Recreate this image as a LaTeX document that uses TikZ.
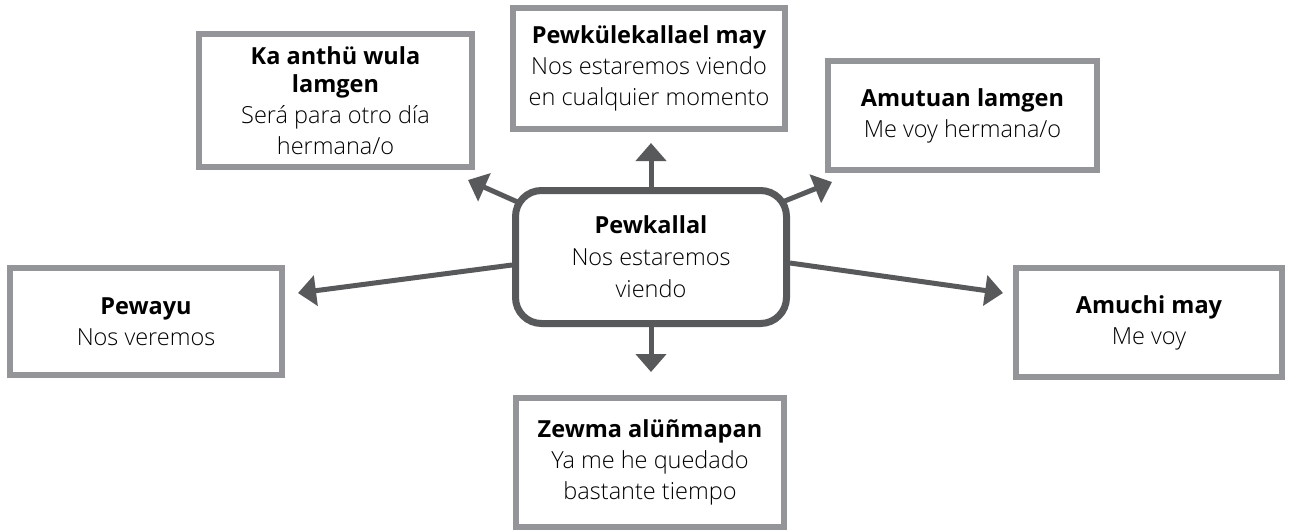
\documentclass[tikz,border=0pt]{standalone}
\usepackage{fontspec}
\setmainfont{Open Sans}[UprightFont={* Light}, BoldFont={* Bold}]
\usetikzlibrary{arrows.meta,backgrounds}
\definecolor{boxgray}{HTML}{939598}
\definecolor{hubgray}{HTML}{58595B}
\begin{document}
\begin{tikzpicture}[x=1pt,y=-1pt,
  lbl/.style={draw=boxgray, line width=6pt, fill=white, align=center, inner sep=0pt,
    font=\fontsize{23.5}{31}\selectfont},
  hub/.style={draw=hubgray, line width=7pt, fill=white, rounded corners=26pt, align=center,
    inner sep=0pt, font=\fontsize{23.5}{32}\selectfont},
  arr/.style={draw=hubgray, line width=5pt, -{Triangle[length=18pt,width=30pt]}}]
\useasboundingbox (0,0) rectangle (1290,531);
\node[hub, minimum width=271pt, minimum height=133pt] (C) at (651,257)
  {\textbf{Pewkallal}\\Nos estaremos\\viendo};
\node[lbl, minimum width=273pt, minimum height=133pt] (TL) at (335.5,100.5)
  {\textbf{Ka anthü wula}\\[-3pt]\textbf{lamgen}\\Será para otro día\\hermana/o};
\node[lbl, minimum width=272pt, minimum height=121pt] (TC) at (649,68.5)
  {\textbf{Pewkülekallael may}\\Nos estaremos viendo\\en cualquier momento};
\node[lbl, minimum width=269pt, minimum height=109pt] (TR) at (962.5,115.5)
  {\textbf{Amutuan lamgen}\\Me voy hermana/o};
\node[lbl, minimum width=272pt, minimum height=107pt] (L) at (146,321.5)
  {\textbf{Pewayu}\\Nos veremos};
\node[lbl, minimum width=266pt, minimum height=109pt] (R) at (1149,322.5)
  {\textbf{Amuchi may}\\Me voy};
\node[lbl, minimum width=268pt, minimum height=129pt] (B) at (650,462.5)
  {\textbf{Zewma alüñmapan}\\Ya me he quedado\\bastante tiempo};
\coordinate (tltip) at (468,180);
\coordinate (trtip) at (832,182);
\coordinate (ltip) at (298,293);
\coordinate (rtip) at (1003,293);
\begin{scope}[on background layer]
\draw[arr] ([shift={(-111,-45)}]C.center) -- (tltip);
\draw[arr] ([shift={(109,-46)}]C.center) -- (trtip);
\draw[arr] ([yshift=-8pt]C.west) -- (ltip);
\draw[arr] ([yshift=-6pt]C.east) -- (rtip);
\draw[arr, shorten >=11pt] (C.north) -- (C.north |- TC.south);
\draw[arr, shorten >=23pt] (C.south) -- (C.south |- B.north);
\end{scope}
\end{tikzpicture}
\end{document}
